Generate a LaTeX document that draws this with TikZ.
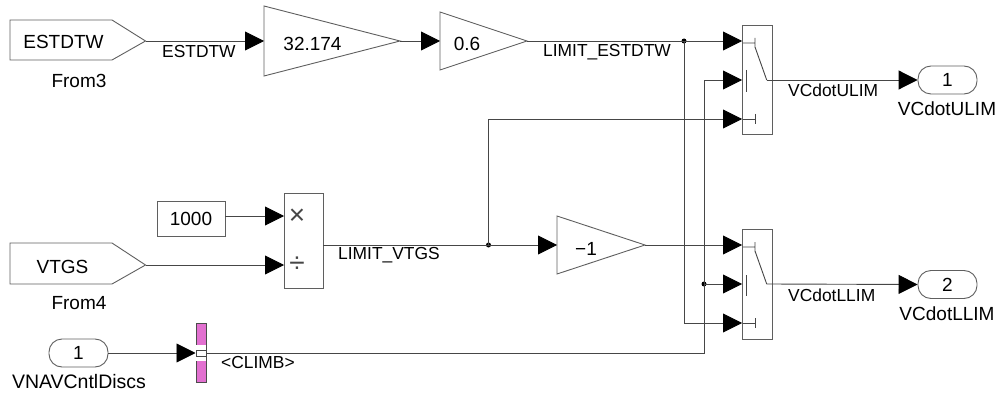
\documentclass[tikz,border=0pt]{standalone}
\usepackage{fontspec}
\setmainfont{Liberation Sans}
\usetikzlibrary{arrows.meta}
\definecolor{wirec}{RGB}{70,70,70}
\definecolor{edgec}{RGB}{95,95,95}
\definecolor{busc}{RGB}{226,112,208}
\tikzset{
  x=1pt,y=-1pt,
  wire/.style={draw=wirec,line width=0.9pt},
  arrowwire/.style={wire,-{Triangle[length=19pt,width=19pt,fill=black,color=black]}},
  block/.style={draw=edgec,line width=0.9pt,fill=white,line join=miter},
  boxnode/.style={block,rectangle,inner sep=0pt,font=\fontsize{19}{19}\selectfont},
  portnode/.style={boxnode,rounded corners=13pt,minimum width=59pt,minimum height=28pt},
  blocklabel/.style={inner sep=0pt,font=\fontsize{19}{19}\selectfont},
  siglabel/.style={inner sep=0pt,anchor=west,font=\fontsize{17.4}{17.4}\selectfont},
  switchpart/.style={draw=wirec,line width=0.9pt},
  dotnode/.style={circle,fill=black,inner sep=0pt,minimum size=5pt},
}
\begin{document}
\begin{tikzpicture}
\useasboundingbox (0,0) rectangle (1003,398);
% goto-from blocks
\draw[block] (10,20) -- (112,20) -- (145.5,41) -- (112,60) -- (10,60) -- cycle;
\coordinate (from3out) at (145.5,41);
\node[blocklabel] (from3txt) at (63.5,42) {ESTDTW};
\node[blocklabel] (from3lab) at (79,81) {From3};
\draw[block] (10,243) -- (112,243) -- (145.5,265) -- (112,284) -- (10,284) -- cycle;
\coordinate (from4out) at (145.5,265);
\node[blocklabel] (from4txt) at (62.5,267) {VTGS};
\node[blocklabel] (from4lab) at (79,303) {From4};
% gains
\draw[block] (264,6) -- (400,41) -- (264,76) -- cycle;
\coordinate (g1in) at (264,41); \coordinate (g1out) at (400,41);
\node[blocklabel] (g1txt) at (312.5,44) {32.174};
\draw[block] (440,12) -- (527,41) -- (440,70) -- cycle;
\coordinate (g2in) at (440,41); \coordinate (g2out) at (527,41);
\node[blocklabel] (g2txt) at (467,44) {0.6};
\draw[block] (557,216) -- (645,245) -- (557,274) -- cycle;
\coordinate (g3in) at (557,245); \coordinate (g3out) at (645,245);
\node[blocklabel] (g3txt) at (586,249) {−1};
% constant and product
\node[boxnode,minimum width=68pt,minimum height=35pt] (const) at (191,219) {1000};
\node[block,rectangle,inner sep=0pt,minimum width=39pt,minimum height=95pt] (prod) at (303.5,240.5) {};
\coordinate (prodin1) at (284,216); \coordinate (prodin2) at (284,265); \coordinate (prodout) at (323,245);
\node[inner sep=0pt,font=\fontsize{28}{28}\selectfont,color=wirec] (times) at (297,217) {×};
\node[inner sep=0pt,font=\fontsize{28}{28}\selectfont,color=wirec] (divs) at (297,265) {÷};
% inport and bus selector
\node[portnode] (inp) at (78.5,353) {1};
\node[blocklabel,font=\fontsize{19.5}{19.5}\selectfont] (inplab) at (79,382) {VNAVCntlDiscs};
\node[block,rectangle,draw=black!70,fill=busc,inner sep=0pt,minimum width=10pt,minimum height=59pt] (bus) at (201,352.5) {};
\fill[white] (196,345) rectangle (206,361);
\draw[wirec,line width=0.7pt] (196,350) rectangle (206,356);
\coordinate (busin) at (195.5,353); \coordinate (busout) at (206,353);
% switches
\node[block,rectangle,inner sep=0pt,minimum width=29.5pt,minimum height=109pt] (sw1) at (757.5,79.5) {};
\node[block,rectangle,inner sep=0pt,minimum width=29.5pt,minimum height=110pt] (sw2) at (757.5,284) {};
\coordinate (s1a) at (742,41); \coordinate (s1b) at (742,80); \coordinate (s1c) at (742,119);
\coordinate (s2a) at (742,245); \coordinate (s2b) at (742,284); \coordinate (s2c) at (742,323);
\coordinate (s1o) at (766.7,80); \coordinate (s2o) at (766.7,284);
\draw[switchpart] (743,43) -- (755,43) (755,38) -- (755,48) (755,47) -- (s1o);
\draw[switchpart] (746.7,70) -- (746.7,92);
\draw[switchpart] (743,119) -- (755,119) (755,114) -- (755,124);
\draw[switchpart] (743,247) -- (755,247) (755,242) -- (755,252) (755,251) -- (s2o);
\draw[switchpart] (746.7,275) -- (746.7,296);
\draw[switchpart] (743,323) -- (755,323) (755,318) -- (755,328);
% outports
\node[portnode] (out1) at (947.5,80) {1};
\node[portnode] (out2) at (947.5,284.5) {2};
\node[blocklabel] (out1lab) at (947,109) {VCdotULIM};
\node[blocklabel] (out2lab) at (947,314) {VCdotLLIM};
% junctions
\node[dotnode] (j1) at (684,41) {};
\node[dotnode] (j2) at (704,284) {};
\node[dotnode] (j3) at (488.5,245) {};
% connectors
\draw[arrowwire] (from3out) -- (g1in);
\draw[arrowwire] (g1out) -- (g2in);
\draw[arrowwire] (g2out) -- (s1a);
\draw[arrowwire] (from4out) -- (prodin2);
\draw[arrowwire] (const.east |- prodin1) -- (prodin1);
\draw[arrowwire] (prodout) -- (g3in);
\draw[arrowwire] (j3.center) |- (s1c);
\draw[arrowwire] (g3out) -- (s2a);
\draw[arrowwire] (j1.center) |- (s2c);
\draw[arrowwire] (busout) -| (j2.center) |- (s1b);
\draw[arrowwire] (j2.center) -- (s2b);
\draw[arrowwire] (inp.east) -- (busin);
\draw[arrowwire] (s1o) -- (out1.west);
\draw[arrowwire] (s2o) -- (out2.west);
% signal labels
\node[siglabel] (l1) at (162,52) {ESTDTW};
\node[siglabel] (l2) at (543,52) {LIMIT\_ESTDTW};
\node[siglabel] (l3) at (338,255) {LIMIT\_VTGS};
\node[siglabel] (l4) at (788,90) {VCdotULIM};
\node[siglabel] (l5) at (788,295) {VCdotLLIM};
\node[siglabel] (l6) at (221,363) {<CLIMB>};
\end{tikzpicture}
\end{document}
